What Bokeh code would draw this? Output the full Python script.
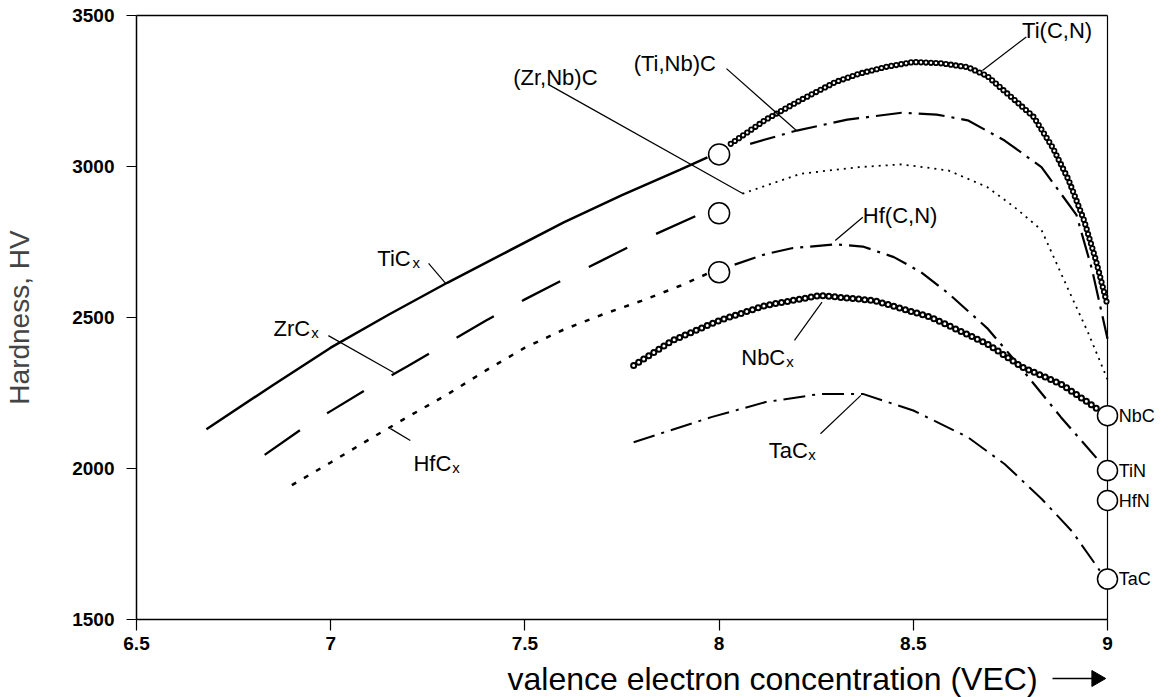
import numpy as np
from bokeh.plotting import figure
from bokeh.models import Range1d, FixedTicker
from bokeh.core.properties import value
from bokeh.embed import file_html
from bokeh.resources import INLINE

# ---------------- data ----------------
tic_vec = [6.68, 6.85, 7.0, 7.15, 7.3, 7.45, 7.6, 7.75, 7.9, 7.97]
tic_hv = [2130, 2275, 2400, 2510, 2615, 2715, 2815, 2905, 2990, 3030]

zrc_vec = [6.83, 6.93, 7.0, 7.1, 7.2, 7.3, 7.4, 7.5, 7.6, 7.7, 7.8, 7.95]
zrc_hv = [2045, 2135, 2190, 2268, 2340, 2415, 2490, 2560, 2626, 2690, 2755, 2842]

hfc_vec = [6.9, 7.0, 7.1, 7.2, 7.3, 7.4, 7.5, 7.6, 7.7, 7.8, 7.9, 7.97]
hfc_hv = [1945, 2020, 2097, 2172, 2245, 2325, 2400, 2460, 2510, 2555, 2605, 2645]

vec8_points = [8.0, 8.0, 8.0]
vec8_hv = [3040, 2845, 2650]

ticn_vec = [8.03, 8.12, 8.21, 8.3, 8.36, 8.43, 8.5, 8.57, 8.64, 8.69, 8.73, 8.77, 8.81, 8.86, 8.9, 8.94, 8.97, 9.0]
ticn_hv = [3075, 3155, 3220, 3280, 3307, 3330, 3346, 3342, 3329, 3300, 3255, 3210, 3164, 3060, 2955, 2820, 2690, 2540]

tinbc_vec = [8.08, 8.2, 8.33, 8.47, 8.56, 8.64, 8.735, 8.83, 8.92, 8.96, 9.0]
tinbc_hv = [3075, 3119, 3155, 3178, 3172, 3153, 3086, 2998, 2840, 2660, 2430]

zrnbc_vec = [8.06, 8.21, 8.36, 8.47, 8.59, 8.69, 8.76, 8.83, 8.9, 8.95, 9.0]
zrnbc_hv = [2910, 2976, 2998, 3007, 2987, 2932, 2866, 2790, 2590, 2450, 2295]

hfcn_vec = [8.04, 8.12, 8.19, 8.3, 8.37, 8.45, 8.52, 8.59, 8.69, 8.76, 8.88, 9.0]
hfcn_hv = [2675, 2710, 2730, 2742, 2735, 2700, 2650, 2580, 2465, 2360, 2170, 1993]

nbc_vec = [7.78, 7.88, 8.0, 8.12, 8.26, 8.4, 8.545, 8.69, 8.78, 8.88, 8.98]
nbc_hv = [2341, 2424, 2490, 2540, 2573, 2556, 2501, 2413, 2336, 2280, 2192]

tac_vec = [7.78, 7.98, 8.12, 8.26, 8.37, 8.5, 8.64, 8.735, 8.83, 8.91, 8.98]
tac_hv = [2087, 2170, 2220, 2247, 2247, 2192, 2104, 2015, 1900, 1790, 1662]

end_names = ["NbC", "TiN", "HfN", "TaC"]
end_vec = [9.0, 9.0, 9.0, 9.0]
end_hv = [2175, 1993, 1894, 1634]

xtick_vals = [6.5, 7, 7.5, 8, 8.5, 9]
xtick_labels = ["6.5", "7", "7.5", "8", "8.5", "9"]
ytick_vals = [1500, 2000, 2500, 3000, 3500]

# curve annotations: text, subscript, left x, baseline y
ann_text = ["TiC", "ZrC", "HfC", "NbC", "TaC", "Ti(C,N)", "(Ti,Nb)C", "(Zr,Nb)C", "Hf(C,N)"]
ann_sub = ["x", "x", "x", "x", "x", "", "", "", ""]
ann_x = [7.12, 6.853, 7.213, 8.057, 8.128, 8.78, 7.78, 7.47, 8.37]
ann_y = [2695, 2464, 2017, 2369, 2060, 3451, 3340, 3295, 2838]
# leader lines
lead_x0 = [7.252, 6.994, 7.154, 8.194, 8.261, 8.791, 8.019, 7.56, 8.37]
lead_y0 = [2679, 2440, 2132, 2424, 2115, 3429, 3324, 3272, 2832]
lead_x1 = [7.296, 7.162, 7.205, 8.265, 8.365, 8.678, 8.199, 8.062, 8.299]
lead_y1 = [2613, 2318, 2093, 2551, 2242, 3318, 3119, 2910, 2755]

x_title = "valence electron concentration (VEC)"

FONT = "Liberation Sans"
PX_PER_X = 388.4   # pixels per VEC unit in this layout
PX_PER_Y = 0.302   # pixels per HV unit
ANN_SIZE = 22
SUB_SIZE = 15
arial_w = {"T": 611, "i": 222, "C": 722, "Z": 611, "r": 333, "H": 722, "f": 278,
           "N": 722, "b": 556, "a": 556, "(": 333, ")": 333, ",": 278}
kern_px = {"TaC": -3}

FRAME_LEFT_PX = 136      # page column of VEC 6.5
AXIS_ROW_PX = 619        # page row of HV 1500
Y_TOP = 1500 + AXIS_ROW_PX / PX_PER_Y
Y_BOTTOM = 1500 - (697 - AXIS_ROW_PX) / PX_PER_Y
X_LEFT = 6.5 - FRAME_LEFT_PX / PX_PER_X
X_RIGHT = 6.5 + (1174 - FRAME_LEFT_PX) / PX_PER_X


def vx(px):
    """page pixel column -> VEC value"""
    return 6.5 + (px - FRAME_LEFT_PX) / PX_PER_X


def hy(py):
    """page pixel row -> HV value"""
    return 1500 - (py - AXIS_ROW_PX) / PX_PER_Y


p = figure(width=1174, height=697, output_backend="svg", toolbar_location=None,
           x_range=Range1d(X_LEFT, X_RIGHT), y_range=Range1d(Y_BOTTOM, Y_TOP),
           min_border_left=0, min_border_right=0, min_border_top=0,
           min_border_bottom=0)
p.outline_line_color = None
p.grid.visible = False
p.background_fill_color = "white"
p.border_fill_color = "white"

# axes
for ax in (p.xaxis[0], p.yaxis[0]):
    ax.axis_line_color = "black"
    ax.axis_line_width = 1.5
    ax.major_tick_line_color = "black"
    ax.major_tick_line_width = 1.2
    ax.major_tick_in = 0
    ax.minor_tick_line_color = None
    ax.major_label_text_font = FONT
    ax.major_label_text_font_style = "bold"
    ax.major_label_text_font_size = "19px"
    ax.major_label_text_color = "black"

p.xaxis.fixed_location = 1500
p.xaxis.ticker = FixedTicker(ticks=xtick_vals)
p.xaxis.major_label_overrides = dict(zip(xtick_vals, xtick_labels))
p.xaxis.bounds = (6.5, 9)
p.xaxis.major_tick_out = 11
p.xaxis.major_label_standoff = 6

p.yaxis.fixed_location = 6.5
p.yaxis.ticker = FixedTicker(ticks=ytick_vals)
p.yaxis.bounds = (1500, 3500)
p.yaxis.major_tick_out = 10
p.yaxis.major_label_standoff = 12
p.yaxis.axis_label = "Hardness, HV"
p.yaxis.axis_label_text_font = FONT
p.yaxis.axis_label_text_font_style = "normal"
p.yaxis.axis_label_text_font_size = "28px"
p.yaxis.axis_label_standoff = 34

# frame: top line and right line at VEC 9
p.line([6.5, 9.0], [3500, 3500], line_color="black", line_width=1.5)
p.line([9.0, 9.0], [1500, 3500], line_color="black", line_width=1.2)

# curves
p.line(tic_vec, tic_hv, line_color="black", line_width=2.5)
p.line(zrc_vec, zrc_hv, line_color="black", line_width=2.3, line_dash="43 32")
p.line(hfc_vec, hfc_hv, line_color="black", line_width=2.5, line_dash="5 9")
p.line(tinbc_vec, tinbc_hv, line_color="black", line_width=2.2, line_dash="26 7 3 7")
p.line(zrnbc_vec, zrnbc_hv, line_color="black", line_width=1.8, line_dash="2 5")
p.line(hfcn_vec, hfcn_hv, line_color="black", line_width=2.2, line_dash="22 7 3 7")
p.line(tac_vec, tac_hv, line_color="black", line_width=2.0, line_dash="22 7 3 7")


def ring_chain(xs, ys, w_out, w_in, dash):
    p.line(xs, ys, line_color="black", line_width=w_out, line_dash=dash, line_cap="round")
    p.line(xs, ys, line_color="white", line_width=w_in, line_dash=dash, line_cap="round")


ring_chain(ticn_vec, ticn_hv, 6.2, 2.6, "0 5")
ring_chain(nbc_vec, nbc_hv, 7.0, 3.0, "0 6")

# leaders
p.segment(lead_x0, lead_y0, lead_x1, lead_y1, line_color="black", line_width=1.2)

# open circles
p.scatter(vec8_points, vec8_hv, marker="circle", size=21, fill_color="white",
          line_color="black", line_width=1.5)
p.scatter(end_vec, end_hv, marker="circle", size=20, fill_color="white",
          line_color="black", line_width=1.5)

# labels
p.text([v + 0.029 for v in end_vec], end_hv, text=end_names, text_font=value(FONT),
       text_font_size="18px", text_baseline="middle", text_align="left", text_color="black")

p.text(ann_x, ann_y, text=ann_text, text_font=value(FONT), text_font_size=f"{ANN_SIZE}px",
       text_baseline="alphabetic", text_align="left", text_color="black")
sub_x, sub_y, sub_t = [], [], []
for t, s, x, y in zip(ann_text, ann_sub, ann_x, ann_y):
    if s:
        wpx = sum(arial_w[c] for c in t) / 1000 * ANN_SIZE + kern_px.get(t, 0)
        sub_x.append(x + (wpx + 1) / PX_PER_X)
        sub_y.append(y - 4 / PX_PER_Y)
        sub_t.append(s)
p.text(sub_x, sub_y, text=sub_t, text_font=value(FONT), text_font_size=f"{SUB_SIZE}px",
       text_baseline="alphabetic", text_align="left", text_color="black")

# x axis title with arrow (below the axis line)
xl_y = hy(678)
p.text([vx(507)], [xl_y], text=[x_title], text_font=value(FONT),
       text_font_size="32px", text_baseline="middle", text_align="left", text_color="black")
p.segment([vx(1052)], [xl_y], [vx(1094)], [xl_y], line_color="black", line_width=1.5)
p.scatter([vx(1096)], [xl_y], marker="triangle", angle=-np.pi / 2, size=16,
          fill_color="black", line_color="black")

open("out.html", "w").write(file_html(p, INLINE))
